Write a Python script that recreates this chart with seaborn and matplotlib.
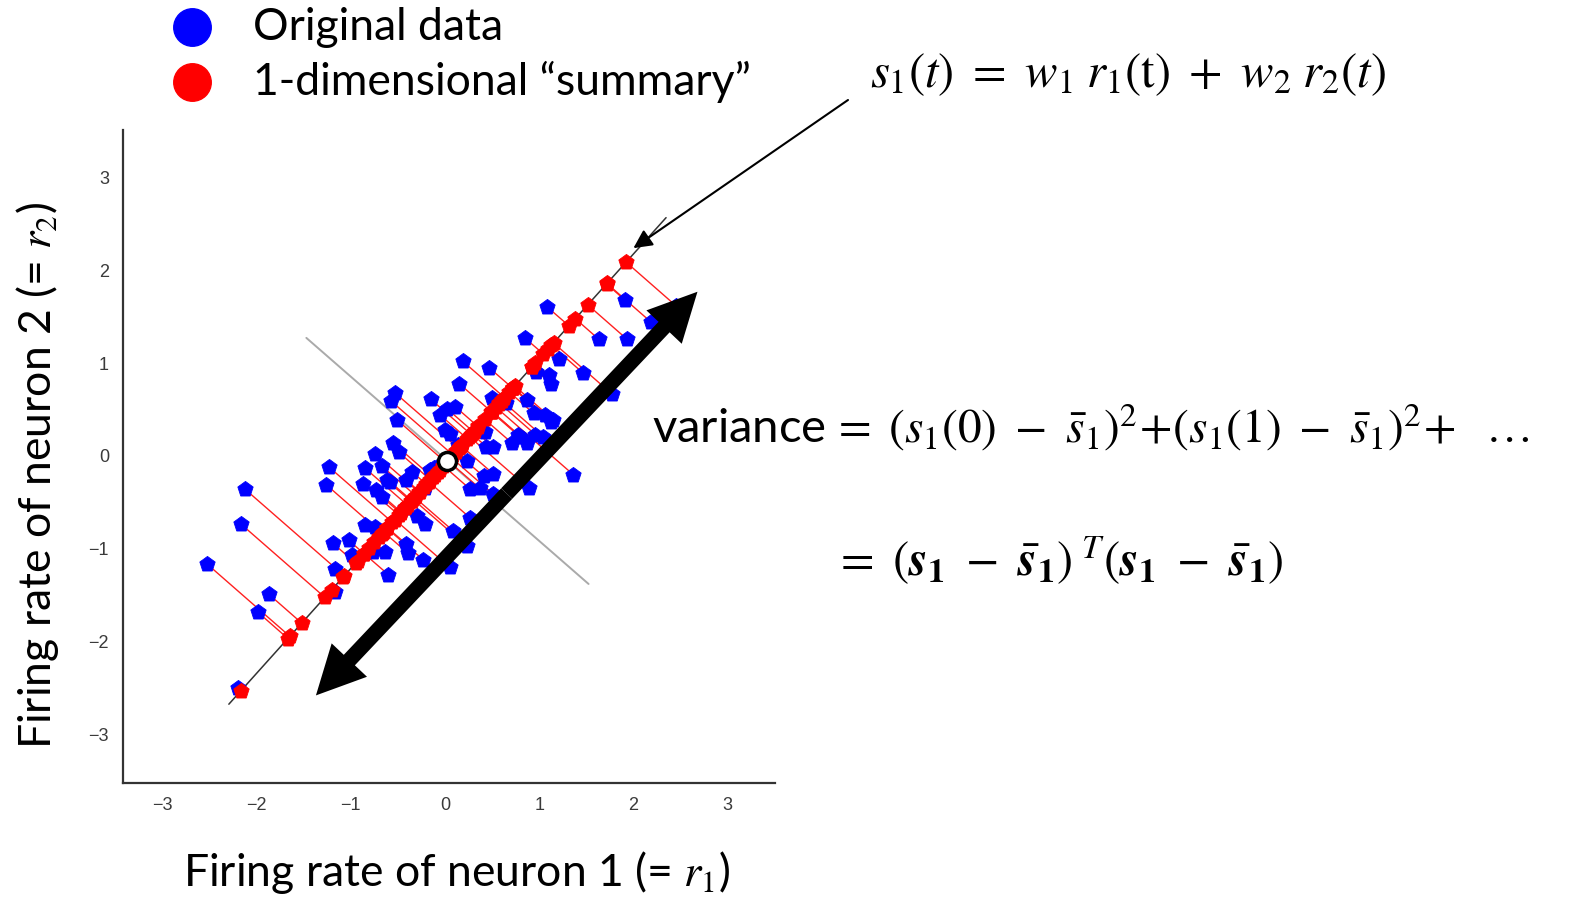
import numpy as np
import pandas as pd
import matplotlib
matplotlib.use("Agg")
import matplotlib.pyplot as plt
import seaborn as sns
from matplotlib.lines import Line2D
from matplotlib.collections import LineCollection

# Firing rates of the two neurons (one entry per time bin)
r1 = [-2.12, -2.17, -2.53, -1.87, -1.99, -2.20, -1.23, -1.26, -1.19, -1.02,
      -0.99, -1.17, -1.17, -0.85, -0.87, -0.74, -0.67, -0.62, -0.58, -0.73,
      -0.67, -0.85, -0.74, -0.76, -0.64, -0.60, -0.42, -0.30, -0.21, -0.41,
      -0.39, -0.23, -0.35, -0.41, -0.21, -0.12, -0.16, -0.09, 0.05, 0.09,
      0.23, 0.27, -0.53, -0.57, -0.51, -0.55, -0.49, -0.15, 0.02, 0.11,
      -0.05, 0.00, 0.05, 0.19, 0.15, 0.14, 0.23, 0.42, 0.44, 0.51,
      0.71, 0.80, 0.87, 1.04, 1.13, 0.78, 0.96, 0.41, 0.51, 0.27,
      0.37, 0.51, 0.89, 1.36, 1.08, 1.91, 2.19, 0.85, 1.63, 1.93,
      1.21, 0.47, 0.97, 1.10, 1.13, 1.47, 0.50, 0.65, 0.87, 1.77,
      0.94, 1.06, 1.15, 2.45]
r2 = [-0.36, -0.73, -1.16, -1.49, -1.68, -2.50, -0.12, -0.31, -0.94, -0.91,
      -1.07, -1.22, -1.47, -0.13, -0.30, 0.02, -0.11, -0.26, -0.28, -0.37,
      -0.44, -0.74, -0.76, -1.03, -1.03, -1.28, -0.56, -0.65, -0.73, -0.95,
      -1.05, -1.12, -0.17, -0.26, -0.35, -0.13, -0.15, -0.12, -1.20, -0.81,
      -0.97, -0.67, 0.68, 0.59, 0.39, 0.14, 0.04, 0.61, 0.51, 0.53,
      0.44, 0.28, 0.24, 1.02, 0.78, 0.12, -0.05, 0.26, 0.10, 0.10,
      0.14, 0.21, 0.14, 0.21, 0.37, 0.23, 0.23, -0.22, -0.19, -0.36,
      -0.35, -0.41, -0.35, -0.20, 1.61, 1.68, 1.44, 1.27, 1.26, 1.26,
      1.04, 0.95, 0.91, 0.87, 0.78, 0.89, 0.62, 0.57, 0.60, 0.67,
      0.46, 0.44, 0.39, 1.62]

# Weights of the 1-D summary s1 = w1*r1 + w2*r2
weights = [0.663, 0.749]

tick_values = [-3, -2, -1, 0, 1, 2, 3]
tick_labels = ["\u22123", "\u22122", "\u22121", "0", "1", "2", "3"]

# Double-headed arrow marking the direction of largest spread
spread_arrow_ends = [(-1.37, -2.58), (2.68, 1.77)]

sns.set_theme(style="white")
plt.rcParams["font.family"] = ["Lato", "DejaVu Sans"]
plt.rcParams["mathtext.fontset"] = "stix"

df = pd.DataFrame({"r1": r1, "r2": r2})
w = np.array(weights)
center = df[["r1", "r2"]].mean().to_numpy()
s = (df[["r1", "r2"]].to_numpy() - center) @ w
proj = center + np.outer(s, w)
df["p1"] = proj[:, 0]
df["p2"] = proj[:, 1]

fig = plt.figure(figsize=(15.7, 8.99), dpi=100)
ax = fig.add_axes([123 / 1570, 1 - 783 / 899, (775 - 123) / 1570, (783 - 130) / 899])
ax.set_xlim(-3.418, 3.503)
ax.set_ylim(-3.524, 3.513)

# projection segments from each sample onto the summary axis
segs = [[(a, b), (c, d)] for a, b, c, d in df[["r1", "r2", "p1", "p2"]].to_numpy()]
ax.add_collection(LineCollection(segs, colors="#ff2020", linewidths=1.0, zorder=2))

# summary axis and its orthogonal complement through the mean
perp = np.array([-w[1], w[0]])
axis_line = np.array([center - 3.5 * w, center + 3.5 * w])
perp_line = np.array([center - 2.0 * perp, center + 2.0 * perp])
ax.plot(axis_line[:, 0], axis_line[:, 1], color="#333333", lw=1.1, zorder=3)
ax.plot(perp_line[:, 0], perp_line[:, 1], color="#aaaaaa", lw=1.4, zorder=1)

sns.scatterplot(data=df, x="r1", y="r2", color="#0000ff", marker="p", s=135,
                edgecolor="#0000ff", linewidth=0.6, ax=ax, zorder=4, legend=False)
sns.scatterplot(data=df, x="p1", y="p2", color="#ff0000", marker="p", s=135,
                edgecolor="#ff0000", linewidth=0.6, ax=ax, zorder=5, legend=False)
ax.plot([center[0]], [center[1]], marker="o", ms=13, mfc="white", mec="black",
        mew=2.5, zorder=6)

# big double-headed arrow
(ax0, ay0), (ax1, ay1) = spread_arrow_ends
mid = ((ax0 + ax1) / 2, (ay0 + ay1) / 2)
for tip in spread_arrow_ends:
    ax.annotate("", xy=tip, xytext=mid,
                arrowprops=dict(facecolor="black", edgecolor="black", width=11,
                                headwidth=35, headlength=35, shrink=0, lw=0),
                zorder=7)

ax.set_xticks(tick_values)
ax.set_xticklabels(tick_labels)
ax.set_yticks(tick_values)
ax.set_yticklabels(tick_labels)
ax.tick_params(axis="both", direction="in", length=3, width=1, colors="#3a3a3a",
               labelsize=13, pad=10)
for lab in ax.get_xticklabels() + ax.get_yticklabels():
    lab.set_fontfamily("Liberation Sans")
for side in ["top", "right"]:
    ax.spines[side].set_visible(False)
for side in ["left", "bottom"]:
    ax.spines[side].set_color("#333333")
    ax.spines[side].set_linewidth(1.6)
ax.set_xlabel("")
ax.set_ylabel("")

label_size = 32
fig.text(457 / 1570, 1 - 872 / 899, r"Firing rate of neuron 1 (= $r_1$)",
         ha="center", va="center", fontsize=label_size, color="black")
fig.text(38 / 1570, 1 - 475 / 899, r"Firing rate of neuron 2 (= $r_2$)",
         ha="center", va="center", rotation=90, fontsize=label_size, color="black")

# legend
for ypix, col, txt in [(27, "#0000ff", "Original data"),
                       (82, "#ff0000", "1-dimensional \u201csummary\u201d")]:
    yf = 1 - ypix / 899
    fig.add_artist(Line2D([192 / 1570], [yf], marker="o", ms=27, mfc=col, mec=col,
                          ls="none", transform=fig.transFigure))
    fig.text(253 / 1570, yf, txt, ha="left", va="center", fontsize=label_size,
             color="black")

# equations
eq_size = 35
fig.text(870 / 1570, 1 - 75 / 899,
         r"$s_1(t)\ =\ w_1\; r_1(\mathrm{t})\ +\ w_2\; r_2(t)$",
         ha="left", va="center", fontsize=eq_size, color="black")
fig.text(652 / 1570, 1 - 427 / 899,
         r"variance$\,=\ (s_1(0)\ -\ \bar{s}_1)^2\!+\!(s_1(1)\ -\ \bar{s}_1)^2\!+\ \ \ldots$",
         ha="left", va="center", fontsize=34, color="black")
fig.text(833 / 1570, 1 - 560 / 899,
         r"$=\ (\mathbfit{s}_\mathbf{1}\ -\ \bar{\mathbfit{s}}_\mathbf{1})^{\ T}(\mathbfit{s}_\mathbf{1}\ -\ \bar{\mathbfit{s}}_\mathbf{1})$",
         ha="left", va="center", fontsize=eq_size, color="black")

# pointer from the formula to the summary axis
ax.annotate("", xy=(2.0, 2.24), xycoords="data",
            xytext=(848 / 1570, 1 - 100 / 899), textcoords="figure fraction",
            arrowprops=dict(arrowstyle="-|>", color="black", lw=1.5,
                            mutation_scale=28, shrinkA=0, shrinkB=0),
            annotation_clip=False, zorder=8)

fig.savefig("out.png", dpi=100)
